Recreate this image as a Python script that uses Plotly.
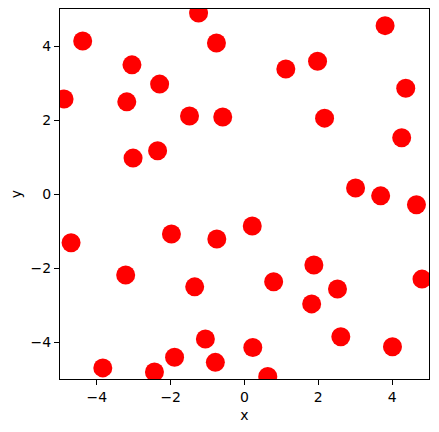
import plotly.graph_objects as go

x_vals = [-4.89, -4.385, -3.05, -2.30, -3.19, -1.49, -3.02, -2.355, -1.245, -0.76,
          -0.59, 1.12, 1.98, 3.81, 4.37, 2.17, 4.26, 3.01, 3.69, 4.66,
          0.21, -0.75, -4.70, -1.98, -3.22, -1.35, -1.06, -1.895, -0.79, -3.84,
          -2.44, 0.79, 1.88, 2.52, 1.82, 2.61, 0.225, 0.63, 4.01, 4.81]
y_vals = [2.57, 4.135, 3.49, 2.97, 2.49, 2.11, 0.97, 1.17, 4.89, 4.08,
          2.08, 3.38, 3.59, 4.55, 2.86, 2.05, 1.52, 0.16, -0.05, -0.29,
          -0.865, -1.215, -1.32, -1.08, -2.19, -2.51, -3.92, -4.41, -4.55, -4.70,
          -4.81, -2.37, -1.92, -2.57, -2.97, -3.86, -4.15, -4.93, -4.13, -2.30]
tick_vals = [-4, -2, 0, 2, 4]

fig = go.Figure(go.Scatter(
    x=x_vals, y=y_vals, mode="markers",
    marker=dict(color="red", size=19, line=dict(width=0)),
    cliponaxis=True,
))

axis_common = dict(
    range=[-5, 5], tickvals=tick_vals, showgrid=False, zeroline=False,
    showline=True, linecolor="black", linewidth=1, mirror=True,
    ticks="outside", ticklen=5, tickwidth=1, tickcolor="black",
    tickfont=dict(family="DejaVu Sans", size=14, color="black"),
)

fig.update_layout(
    width=431, height=424,
    margin=dict(l=52, r=10, t=1, b=53),
    paper_bgcolor="white", plot_bgcolor="white",
    showlegend=False,
    xaxis=dict(**axis_common, title=dict(text="x", font=dict(family="DejaVu Sans", size=14, color="black"), standoff=6)),
    yaxis=dict(**axis_common, title=dict(text="y", font=dict(family="DejaVu Sans", size=14, color="black"), standoff=8)),
)

fig.write_html("out.html")
